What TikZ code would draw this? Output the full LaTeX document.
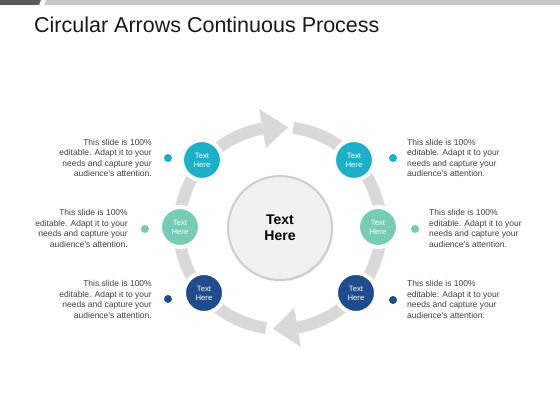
\documentclass[tikz,border=0pt]{standalone}
\usepackage{fontspec}
\setmainfont{Liberation Sans}
\usetikzlibrary{shadows,calc}
\definecolor{teal1}{RGB}{28,176,200}
\definecolor{mint1}{RGB}{118,204,180}
\definecolor{navy1}{RGB}{30,76,140}
\definecolor{ringgray}{RGB}{217,217,217}
\definecolor{txtgray}{RGB}{64,64,64}
\definecolor{hubfill}{RGB}{241,241,241}
\definecolor{hubline}{RGB}{205,205,205}
\definecolor{bardark}{RGB}{90,90,90}
\definecolor{barlight}{RGB}{200,200,200}
\begin{document}
\begin{tikzpicture}[x=1pt,y=1pt,
  desc/.style={font=\fontsize{8.5}{10.5}\selectfont, text=txtgray, inner sep=0pt},
  bubble/.style={circle, fill=#1, draw=white, line width=4pt, minimum size=40pt, inner sep=0pt,
    text=white, align=center, font=\fontsize{7.7}{9.2}\selectfont,
    drop shadow={shadow xshift=1pt, shadow yshift=-1.5pt, opacity=0.3, fill=black!60}},
  dotmark/.style={circle, fill=#1, minimum size=8pt, inner sep=0pt},
  ring/.style={draw=ringgray, line width=12pt},
  ringhead/.style={fill=ringgray}]
\useasboundingbox (0,0) rectangle (560,420);
\fill[white] (0,0) rectangle (560,420);
% top bar
\fill[bardark] (0,420) -- (41,420) -- (39,415) -- (0,415) -- cycle;
\fill[barlight] (46,420) -- (560,420) -- (560,415) -- (44,415) -- cycle;
% title
\node[anchor=base west, font=\fontsize{21.5}{25}\selectfont, inner sep=0pt, text=black!90] (title) at (34,387) {Circular Arrows Continuous Process};
% ring
\coordinate (C) at (280,192);
\draw[ring] ($(C)+(262:101)$) arc[start angle=262, end angle=100, radius=101];
\fill[ringhead] ($(C)+(100:81)$) -- ($(C)+(85.5:101)$) -- ($(C)+(100:121)$) -- cycle;
\draw[ring] ($(C)+(82.5:101)$) arc[start angle=82.5, end angle=-80, radius=101];
\fill[ringhead] ($(C)+(-80:81)$) -- ($(C)+(-94:101)$) -- ($(C)+(-80:121)$) -- cycle;
% hub
\node[circle, fill=hubfill, draw=hubline, line width=2pt, minimum size=104pt, inner sep=0pt,
  align=center, font=\bfseries\fontsize{14}{16}\selectfont,
  drop shadow={shadow xshift=1pt, shadow yshift=-1.5pt, opacity=0.15, fill=black!60}] (hub) at (C) {Text\\Here};
% bubbles
\node[bubble=teal1] (b1) at (202,260) {Text\\Here};
\node[bubble=teal1] (b2) at (354,260) {Text\\Here};
\node[bubble=mint1] (b3) at (180,193) {Text\\Here};
\node[bubble=mint1] (b4) at (378,193) {Text\\Here};
\node[bubble=navy1] (b5) at (204,127) {Text\\Here};
\node[bubble=navy1] (b6) at (356,127) {Text\\Here};
% dots
\node[dotmark=teal1] (d1) at (168,262) {};
\node[dotmark=teal1] (d2) at (393,262) {};
\node[dotmark=mint1] (d3) at (145,191) {};
\node[dotmark=mint1] (d4) at (415,191) {};
\node[dotmark=navy1] (d5) at (168,121) {};
\node[dotmark=navy1] (d6) at (393,120) {};
% descriptions
\node[desc, anchor=east, align=right] (t1) at (152,262) {This slide is 100\%\\editable. Adapt it to your\\needs and capture your\\audience’s attention.};
\node[desc, anchor=east, align=right] (t3) at (128,191.5) {This slide is 100\%\\editable. Adapt it to your\\needs and capture your\\audience’s attention.};
\node[desc, anchor=east, align=right] (t5) at (152,120.5) {This slide is 100\%\\editable. Adapt it to your\\needs and capture your\\audience’s attention.};
\node[desc, anchor=west, align=left] (t2) at (407,262) {This slide is 100\%\\editable. Adapt it to your\\needs and capture your\\audience’s attention.};
\node[desc, anchor=west, align=left] (t4) at (429,191.5) {This slide is 100\%\\editable. Adapt it to your\\needs and capture your\\audience’s attention.};
\node[desc, anchor=west, align=left] (t6) at (407,120.5) {This slide is 100\%\\editable. Adapt it to your\\needs and capture your\\audience’s attention.};
\end{tikzpicture}
\end{document}
